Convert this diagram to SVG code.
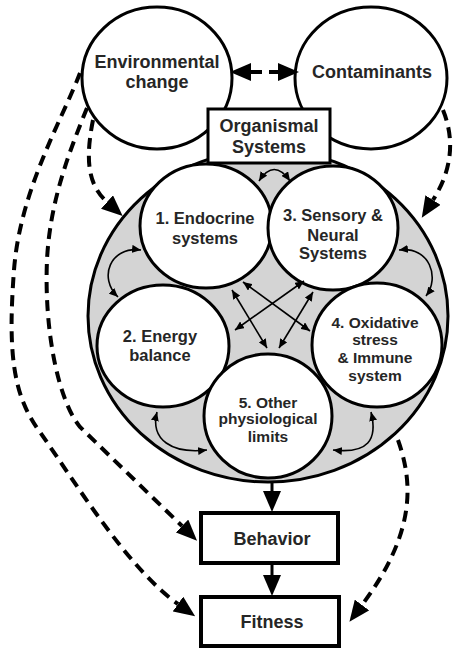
<svg xmlns="http://www.w3.org/2000/svg" width="454" height="649" viewBox="0 0 454 649">
<style>
text{font-family:"Liberation Sans",Arial,sans-serif;font-weight:bold;fill:#262626;text-anchor:middle}
.big{font-size:18px}
.mid{font-size:16.5px}
.sm{font-size:15.5px}
.node{fill:#fff;stroke:#000;stroke-width:3}
.box{fill:#fff;stroke:#000;stroke-width:4}
.dash{fill:none;stroke:#000;stroke-width:4;stroke-dasharray:11 7}
.solid{fill:none;stroke:#000;stroke-width:3}
.thin{fill:none;stroke:#000;stroke-width:1.6;marker-start:url(#sh);marker-end:url(#sh)}
</style>
<defs>
<marker id="bh" markerUnits="userSpaceOnUse" markerWidth="21" markerHeight="18" refX="0" refY="9" orient="auto-start-reverse" viewBox="0 0 21 18">
<path d="M0,0 L21,9 L0,18 z" fill="#000"/>
</marker>
<marker id="sh" markerUnits="userSpaceOnUse" markerWidth="9" markerHeight="8" refX="9" refY="4" orient="auto-start-reverse" viewBox="0 0 9 8">
<path d="M0,0 L9,4 L0,8 z" fill="#000"/>
</marker>
</defs>

<g id="environmental-change">
<ellipse class="node" cx="157" cy="78" rx="75" ry="71"/>
<text class="big" x="157" y="68">Environmental</text>
<text class="big" x="157" y="88">change</text>
</g>
<g id="contaminants">
<ellipse class="node" cx="371" cy="78" rx="76" ry="71"/>
<text class="big" x="372" y="78">Contaminants</text>
</g>

<g id="organismal-systems-area">
<ellipse cx="268" cy="316" rx="180" ry="166" fill="#d4d4d4" stroke="#000" stroke-width="3"/>
</g>

<g id="organismal-systems">
<rect x="208" y="109" width="122" height="54" fill="#fff" stroke="#000" stroke-width="3"/>
<text class="big" x="269" y="132">Organismal</text>
<text class="big" x="269" y="153">Systems</text>
</g>

<g id="endocrine">
<ellipse class="node" cx="206" cy="226" rx="66" ry="62"/>
<text class="mid" x="205" y="224">1. Endocrine</text>
<text class="mid" x="205" y="244">systems</text>
</g>
<g id="sensory">
<ellipse class="node" cx="333" cy="228" rx="65" ry="62"/>
<text class="mid" x="333" y="221">3. Sensory &amp;</text>
<text class="mid" x="333" y="241">Neural</text>
<text class="mid" x="333" y="259">Systems</text>
</g>
<g id="energy">
<ellipse class="node" cx="163" cy="346" rx="66" ry="61"/>
<text class="mid" x="160" y="342">2. Energy</text>
<text class="mid" x="160" y="361">balance</text>
</g>
<g id="oxidative">
<ellipse class="node" cx="377" cy="345" rx="65" ry="62"/>
<text class="sm" x="375" y="327.5">4. Oxidative</text>
<text class="sm" x="375" y="344.5">stress</text>
<text class="sm" x="375" y="362.5">&amp; Immune</text>
<text class="sm" x="375" y="380.5">system</text>
</g>
<g id="other">
<ellipse class="node" cx="268" cy="416" rx="64" ry="62"/>
<text class="sm" x="268" y="407.5">5. Other</text>
<text class="sm" x="268" y="423.5">physiological</text>
<text class="sm" x="268" y="441.5">limits</text>
</g>

<g id="behavior">
<rect class="box" x="201" y="513" width="137" height="50"/>
<text class="big" x="272" y="545">Behavior</text>
</g>
<g id="fitness">
<rect class="box" x="201" y="597" width="138" height="49"/>
<text class="big" x="272" y="628">Fitness</text>
</g>

<g id="connectors">
<path class="dash" d="M251,72 L278,72" marker-start="url(#bh)" marker-end="url(#bh)"/>
<path class="dash" d="M80,73 C62,120 20,190 14,270 C8,350 12,395 40,432 C80,490 130,570 178,604" marker-end="url(#bh)"/>
<path class="dash" d="M87,108 C70,150 50,200 47,260 C44,330 58,400 80,427 L182,526" marker-end="url(#bh)"/>
<path class="dash" d="M93,120 C85,160 88,185 107,202" marker-end="url(#bh)"/>
<path class="dash" d="M443,110 C455,140 452,170 433,200" marker-end="url(#bh)"/>
<path class="dash" d="M398,440 C412,480 418,530 362,605" marker-end="url(#bh)"/>
<path class="solid" d="M272,482 L272,491" marker-end="url(#bh)"/>
<path class="solid" d="M272,564 L272,575" marker-end="url(#bh)"/>
<path class="thin" d="M259,181 Q274,158 290,181"/>
<path class="thin" d="M141,250 C110,246 98,278 118,297"/>
<path class="thin" d="M399,250 C430,246 440,278 426,296"/>
<path class="thin" d="M157,412 C150,440 172,454 207,450"/>
<path class="thin" d="M333,450 C368,454 378,440 371,412"/>
<path class="thin" d="M243,282 L310,331"/>
<path class="thin" d="M304,281 L235,330"/>
<path class="thin" d="M232,290 L267,348"/>
<path class="thin" d="M313,292 L279,348"/>
</g>
</svg>
